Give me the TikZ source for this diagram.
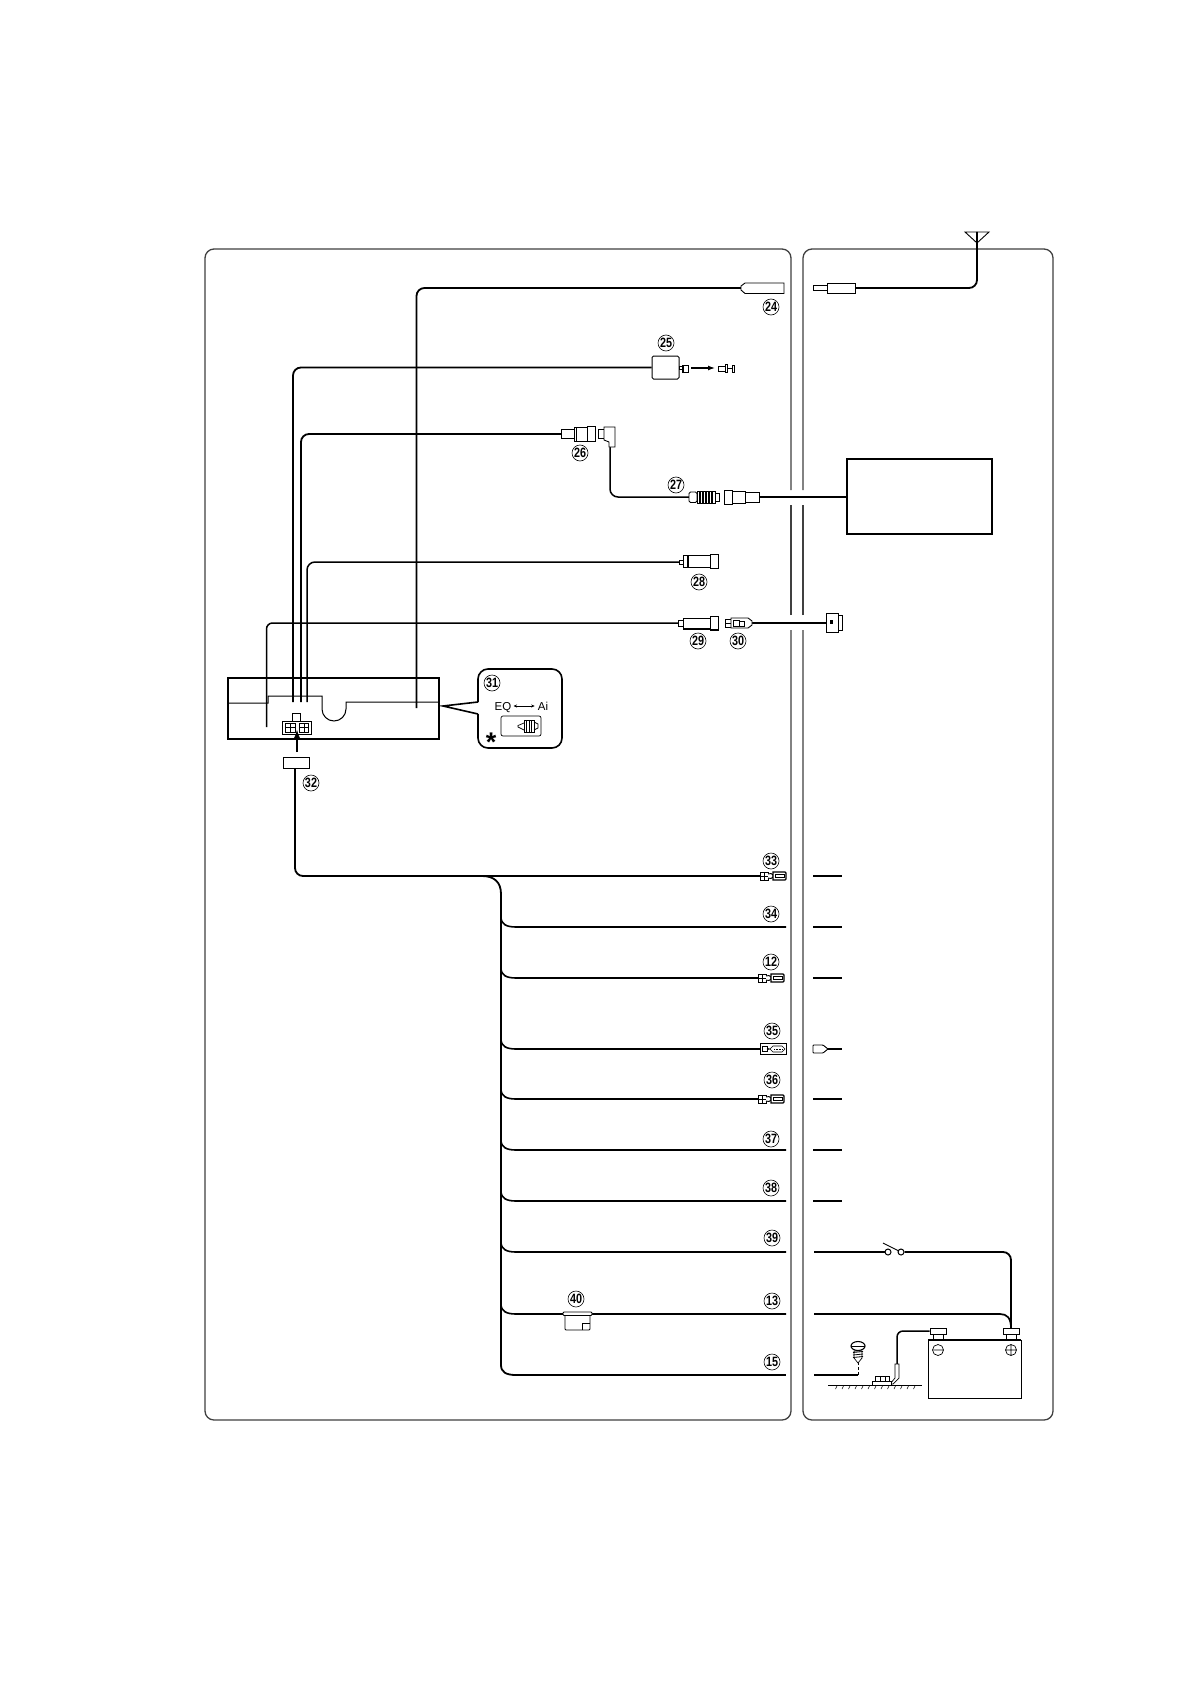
\documentclass[tikz,border=0pt]{standalone}
\usepackage{fontspec}
\usepackage{graphicx}
\setmainfont{Liberation Sans}
\usetikzlibrary{arrows.meta}
\tikzset{
  wire/.style={line width=1.8,black,rounded corners=8},
  panel/.style={line width=1.3,black!75,rounded corners=9},
  part/.style={draw=black,line width=.9,fill=white},
  num/.style={circle,draw=black,line width=.6,inner sep=0,minimum size=16,font=\fontsize{13.5}{14}\selectfont\bfseries},
  blade/.pic={
    \draw[part] (0,-4) rectangle (8,4);
    \draw[line width=.9] (4,-4)--(4,4) (0,0)--(8,0);
    \draw[part] (8,-2)--(11,-2.5)--(13,-1)--(13,1)--(11,2.5)--(8,2);
    \draw[part,line width=1.1] (13,-4)--(25,-4)--(26,-3)--(26,3)--(25,4)--(13,4)--cycle;
    \draw[line width=1] (15,-1.6) rectangle (24,1.6);
  },
  ring/.pic={
    \draw[part] (0,-5.5) rectangle (26,5.5);
    \draw[line width=.6] (2,-2.5) rectangle (7,2.5);
    \draw[line width=.6] (7,-1)--(10,0)--(13,-3)--(22,-3)--(25,0)--(22,3)--(13,3)--(10,0)--(7,1);
    \draw[line width=.6,densely dotted] (14,0)--(23,0);
  }
}
\newcommand{\numtxt}[1]{\scalebox{.8}[1]{#1}}
\begin{document}
\begin{tikzpicture}[x=1pt,y=-1pt]
\useasboundingbox[fill=white] (0,0) rectangle (1191,1685);

% panels
\draw[panel] (791,490)--(791,249)--(205,249)--(205,1420)--(791,1420)--(791,630);
\draw[panel] (791,615)--(791,505);
\draw[panel] (803,490)--(803,249)--(1053,249)--(1053,1420)--(803,1420)--(803,630);
\draw[panel] (803,615)--(803,505);

% head unit
\node[draw,line width=1.6,minimum width=211,minimum height=61,inner sep=0] (unit) at (333.5,708.5) {};
\draw[line width=1] (228,703)--(268,703)--(268,696)--(322,696)--(322,709)
  arc[start angle=180,end angle=0,radius=12]--(346,702)--(439,702);

% named wire ends
\coordinate (u29) at (266.5,727);
\coordinate (u25) at (293,702);
\coordinate (u26) at (301,702);
\coordinate (u28) at (307,702);
\coordinate (u24) at (416.5,708);
\coordinate (c24) at (741,288);
\coordinate (c26) at (561,434);
\coordinate (c28) at (680,562);
\coordinate (c29) at (680,623);
\coordinate (a27) at (689,497);
\coordinate (p26) at (610,447);
\coordinate (f27) at (759,497);
\coordinate (p30) at (752,623);
\coordinate (e30) at (826,623);

\node[draw,line width=1,rounded corners=1.5,minimum width=27,minimum height=23,inner sep=0,fill=white] (b25) at (665.5,367.5) {};
\node[draw,line width=2,minimum width=145,minimum height=75,inner sep=0] (radio) at (919,496) {};
\node[draw,line width=1,minimum width=26,minimum height=11,inner sep=0] (b32) at (296,762.5) {};

% upper wires
\draw[wire] (c24) -| (u24);
\draw[wire] (b25.west) -| (u25);
\draw[wire] (c26) -| (u26);
\draw[wire,line width=1.5] (c28) -| (u28);
\draw[wire,line width=1.5,rounded corners=6] (c29) -| (u29);
\draw[wire,line width=1.5] (p26) |- (a27);
\draw[wire,line width=1.5,sharp corners] (f27) -- (radio.west |- f27);
\draw[wire] (p30) -- (e30);

% 24
\draw[part] (784,283)--(745,283)--(741,286)--(741,290)--(745,293.5)--(784,293.5)--cycle;
% 25 plug and arrow
\draw[part] (679,366.5) rectangle (682,369.5);
\draw[part] (682,365) rectangle (688,372);
\draw[line width=.8] (683,365)--(683,372);
\coordinate (a25) at (691,368);
\coordinate (b25t) at (715,368);
\draw[line width=1.3,-{Latex[length=7,width=5]}] (a25)--(b25t);
\draw[part] (718,366) rectangle (725,371);
\draw[part,line width=1] (725,364) rectangle (727,372);
\draw[line width=.8] (727,368)--(733,368);
\draw[part] (732,365) rectangle (734,372);
% 26
\draw[part] (561,429) rectangle (574,438);
\draw[part] (574,427) rectangle (587,441);
\draw[line width=.5] (576,427)--(576,441);
\draw[part] (587,426) rectangle (595,441);
\draw[part] (598,429) rectangle (604,438);
\draw[part] (604,427)--(615,427)--(615,447)--(609,447)--(609,442)--(604,440)--cycle;
% 27
\draw[part,rounded corners=1.5] (689,492) rectangle (697,502.5);
\draw[part,line width=1] (697,491) rectangle (715,503);
\foreach \xx in {700,703,706,709,712}{\draw[line width=1.3] (\xx,491)--(\xx,503);}
\draw[part] (715,493) rectangle (719,501);
\draw[part] (724,490) rectangle (732,504);
\draw[part] (732,491) rectangle (745,503);
\draw[part] (745,492) rectangle (759,502);
% 28
\draw[part] (679,560) rectangle (683,564);
\draw[part] (683,555) rectangle (710,567);
\draw[line width=1.5] (688,555)--(688,567);
\draw[part] (710,554) rectangle (718,568);
% 29
\draw[part] (678,620) rectangle (683,626);
\draw[part] (683,618) rectangle (710,629);
\draw[line width=1.5] (683,629)--(710,629);
\draw[part] (710,616) rectangle (718,630);
\draw[line width=1.5] (710,630)--(718,630);
% 30
\draw[part] (725,619) rectangle (731,627);
\draw[line width=.7] (725,623)--(731,623);
\draw[part] (731,618)--(748,618)--(752,621)--(752,625)--(748,628)--(731,628)--cycle;
\draw[line width=.7] (733,620) rectangle (739,626);
\draw[line width=.7] (739,621)--(744,621)--(744,626)--(739,626);
\draw[part] (826,613) rectangle (838,632);
\draw[part] (838,615) rectangle (842,630);
\fill (830,620) rectangle (833,624);

% unit connector
\draw[part] (292,713) rectangle (300,721);
\draw[part,line width=1] (282,721) rectangle (311,734);
\draw[line width=.7] (285,723) rectangle (295,732);
\draw[line width=.7] (299,723) rectangle (308,732);
\draw[line width=.7] (290,723)--(290,732) (304,723)--(304,732) (285,727.5)--(295,727.5) (299,727.5)--(308,727.5);
\coordinate (a32) at (297,752);
\coordinate (t32) at (297,729);
\draw[line width=1.7,-{Latex[length=9,width=6]}] (a32)--(t32);

% inset 31
\draw[line width=1.6,rounded corners=10] (478,702)--(478,669)--(562,669)--(562,748)--(478,748)--(478,714);
\draw[line width=1.6] (478,702)--(443,706)--(478,714);
\node[inner sep=0,text height=8.2,text depth=0,font=\fontsize{11.5}{12}\selectfont] (eq) at (503,706) {EQ};
\node[inner sep=0,text height=8.2,text depth=0,font=\fontsize{11.5}{12}\selectfont] (ai) at (543,706) {Ai};
\draw[line width=.6,{Stealth[length=3.5,width=3]}-{Stealth[length=3.5,width=3]}] ([xshift=2]eq.east) -- ([xshift=-3]ai.west);
\draw[line width=.7,rounded corners=2] (501,716) rectangle (541,736);
\draw[line width=.7] (524,723)--(518,725.5)--(518,727)--(524,730);
\draw[line width=.8] (524,720) rectangle (534,732);
\foreach \xx in {526.5,529,531.5}{\draw[line width=.8] (\xx,720)--(\xx,732);}
\draw[line width=.7] (534,722)--(538,724)--(538,728)--(534,730);
\node[inner sep=0,font=\fontsize{27}{27}\selectfont\bfseries] (star) at (491,742) {*};

% harness
\coordinate (s33) at (760,876);
\draw[wire] ([xshift=-1]b32.south) |- (s33);
\draw[wire,sharp corners] (482,876) .. controls (494,876) and (501,882) .. (501,894) -- (501,1365)
  .. controls (501,1372) and (506,1375) .. (516,1375);
\foreach \nm/\yy/\xend in {w34/927/786,w12/978/758,w35/1049/760,w36/1099/758,w37/1150/786,w38/1201/786,w39/1252/786,w13/1314/786}{
  \coordinate (\nm a) at (501,\yy-10);
  \coordinate (\nm b) at (\xend,\yy);
  \draw[line width=1.6] (\nm a) .. controls (501,\yy-3) and (506,\yy) .. (516,\yy) -- (\nm b);
}
\coordinate (w15b) at (786,1375);
\draw[line width=2] (516,1375)--(w15b);
\pic at (760,876) {blade};
\pic at (758,978) {blade};
\pic at (760,1049) {ring};
\pic at (758,1099) {blade};
% fuse
\draw[part,line width=.8,rounded corners=1] (565,1315)--(565,1330)--(590,1330)--(590,1315);
\draw[part,rounded corners=1] (563,1312) rectangle (592,1315.5);
\draw[line width=.7] (582,1330)--(582,1323)--(590,1323);

% right side stubs
\foreach \nm/\yy in {r33/876,r34/927,r12/978,r36/1099,r37/1150,r38/1201}{
  \coordinate (\nm a) at (813,\yy);
  \coordinate (\nm b) at (842,\yy);
  \draw[line width=1.6] (\nm a)--(\nm b);
}
\coordinate (r35) at (828,1049);
\coordinate (r35b) at (842,1049);
\draw[line width=1.3] (r35)--(r35b);
\draw[part,rounded corners=.8] (813,1045)--(823,1045)--(828,1049)--(823,1053)--(813,1053)--cycle;

% antenna
\coordinate (ant) at (977,232);
\coordinate (plug) at (855,288);
\draw[wire] (ant) |- (plug);
\draw[line width=.9] (965,232)--(989,232)--(977,243)--cycle;
\draw[part] (813,285.5) rectangle (827,290.5);
\draw[part] (827,283) rectangle (855,293);

% switch and battery
\node[draw,circle,line width=1,minimum size=6,inner sep=0] (sw1) at (888,1252) {};
\node[draw,circle,line width=1,minimum size=6,inner sep=0] (sw2) at (901,1252) {};
\coordinate (r39) at (814,1252);
\coordinate (r13) at (814,1314);
\node[draw,line width=1,minimum width=93,minimum height=58,inner sep=0] (batt) at (974.5,1369) {};
\draw[line width=2] (928,1340)--(1021,1340);
\node[draw,line width=1,fill=white,minimum width=16,minimum height=6,inner sep=0] (neg) at (938,1331) {};
\node[draw,line width=1,fill=white,minimum width=16,minimum height=6,inner sep=0] (pos) at (1011,1331) {};
\draw[line width=1] (933,1334) rectangle (943,1339);
\draw[line width=1] (1006,1334) rectangle (1016,1339);
\draw[line width=1.7] (r39)--(sw1.west);
\draw[line width=.9] (883,1243)--(899,1251);
\draw[wire] (sw2.east) -| (pos.north);
\draw[line width=1.7] (r13)--(1000,1314) .. controls (1007,1314) and (1011,1318) .. (1011,1328);
\draw[line width=.7] (938,1350) circle[radius=5.5] (933.5,1350)--(942.5,1350);
\draw[line width=.7] (1011,1350) circle[radius=5.5] (1005.5,1350)--(1016.5,1350) (1011,1344.5)--(1011,1355.5);
% ground lug
\coordinate (lug) at (897,1364);
\draw[wire,line width=1.5,rounded corners=6] (neg.west) -| (lug);
\draw[part,line width=.7] (895,1364)--(899,1364)--(899,1378)--(893,1384)--(890,1384)--(895,1378)--cycle;
\draw[part,line width=.7] (872,1381) rectangle (891,1385);
\draw[part,line width=.7] (875,1376) rectangle (889,1381);
\draw[line width=.6] (880,1376)--(880,1381) (885,1376)--(885,1381);
\draw[line width=.8] (828,1385)--(922,1385);
\foreach \xx in {837,843.5,...,920}{\draw[line width=.5] (\xx,1386)--(\xx-1.5,1389);}
% screw
\coordinate (r15) at (814,1375);
\coordinate (sc) at (858,1375);
\draw[line width=1.7] (r15)--(sc);
\draw[line width=.9,dash pattern=on 3 off 2] (sc)--(858,1362);
\draw[part,line width=1.1] (858,1346) ellipse[x radius=7,y radius=4.5];
\draw[line width=.6] (851,1346)--(865,1346);
\draw[part,line width=.7] (854,1351)--(862,1351)--(862,1358)--(858,1363)--(854,1358)--cycle;
\foreach \yy in {1352.5,1355,1357.5}{\draw[line width=.8] (853,\yy)--(863,\yy-1);}

% numbers
\foreach \nn/\xx/\yy in {24/771/307,25/666/343,26/580/453,27/676/485,28/699/582,29/698/641,30/738/641,31/492/683,32/311/783,33/771/861,34/771/914,12/771/962,35/772/1031,36/772/1080,37/771/1139,38/771/1188,39/772/1238,13/772/1301,15/772/1362,40/576/1299}{
  \node[num] (n\nn) at (\xx,\yy) {\numtxt{\nn}};
}
\end{tikzpicture}
\end{document}
